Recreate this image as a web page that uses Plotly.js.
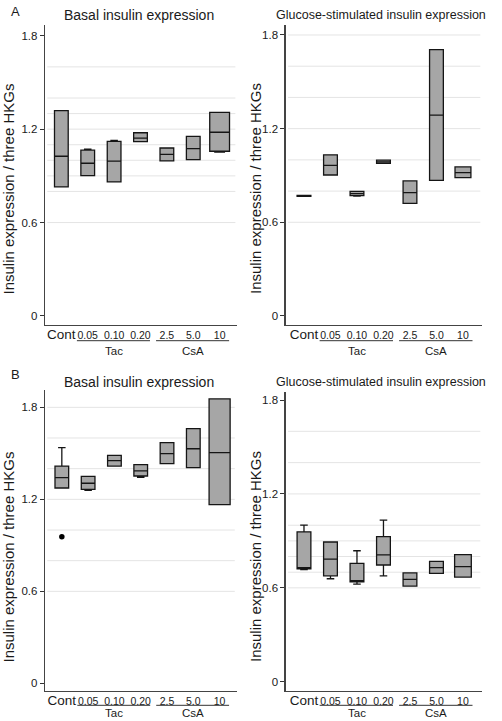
<!DOCTYPE html>
<html>
<head>
<meta charset="utf-8">
<script src="https://cdn.plot.ly/plotly-3.0.1.min.js"></script>
<style>html,body{margin:0;padding:0;background:#fff;}#chart{width:502px;height:721px;}</style>
</head>
<body>
<div id="chart"></div>
<script>
// ---------- data ----------
const categories = ['Cont', '0.05', '0.10', '0.20', '2.5', '5.0', '10'];
const groupNames = ['Tac', 'CsA'];
const groupFirst = [1, 4];
const groupLast = [3, 6];
const yTickVals = [0, 0.6, 1.2, 1.8];
const yTickText = ['0', '0.6', '1.2', '1.8'];
const panelLetters = ['A', 'B'];
const titleBasal = 'Basal insulin expression';
const titleGlucose = 'Glucose-stimulated insulin expression';
const yTitle = 'Insulin expression / three HKGs';

// Panel A, basal
const aBasalLow  = [0.829, 0.901, 0.861, 1.120, 0.996, 1.004, 1.052];
const aBasalQ1   = [0.829, 0.901, 0.861, 1.120, 0.996, 1.004, 1.058];
const aBasalMed  = [1.026, 0.981, 0.994, 1.143, 1.038, 1.075, 1.180];
const aBasalQ3   = [1.319, 1.065, 1.122, 1.177, 1.079, 1.154, 1.308];
const aBasalHigh = [1.319, 1.072, 1.128, 1.177, 1.079, 1.154, 1.308];
// Panel A, glucose-stimulated
const aGlucLow  = [0.766, 0.903, 0.768, 0.978, 0.721, 0.869, 0.886];
const aGlucQ1   = [0.766, 0.903, 0.771, 0.978, 0.721, 0.869, 0.886];
const aGlucMed  = [0.769, 0.965, 0.784, 0.987, 0.790, 1.287, 0.918];
const aGlucQ3   = [0.772, 1.032, 0.798, 0.998, 0.865, 1.706, 0.955];
const aGlucHigh = [0.772, 1.032, 0.798, 0.998, 0.865, 1.706, 0.955];
// Panel B, basal
const bBasalLow  = [1.274, 1.259, 1.417, 1.343, 1.433, 1.407, 1.165];
const bBasalQ1   = [1.274, 1.265, 1.417, 1.352, 1.433, 1.407, 1.165];
const bBasalMed  = [1.341, 1.305, 1.452, 1.385, 1.498, 1.530, 1.504];
const bBasalQ3   = [1.417, 1.350, 1.487, 1.426, 1.570, 1.661, 1.855];
const bBasalHigh = [1.537, 1.350, 1.487, 1.426, 1.570, 1.661, 1.855];
const bBasalOutlierX = ['Cont'];
const bBasalOutlierY = [0.956];
// Panel B, glucose-stimulated
const bGlucLow  = [0.716, 0.658, 0.624, 0.677, 0.611, 0.693, 0.669];
const bGlucQ1   = [0.722, 0.677, 0.639, 0.746, 0.611, 0.693, 0.669];
const bGlucMed  = [0.729, 0.784, 0.645, 0.810, 0.654, 0.729, 0.735];
const bGlucQ3   = [0.958, 0.893, 0.756, 0.927, 0.695, 0.769, 0.812];
const bGlucHigh = [1.001, 0.893, 0.837, 1.033, 0.695, 0.769, 0.812];

// light horizontal reference lines drawn in each panel
const gridABasal = [0.6, 0.8, 0.9, 1.0, 1.1, 1.2, 1.3, 1.4, 1.6];
const gridAGluc  = [0.6, 0.8, 1.0, 1.2, 1.4, 1.6, 1.8];
const gridBBasal = [0.6, 0.8, 1.0, 1.2, 1.4, 1.6, 1.8];
const gridBGluc  = [0.6, 0.7, 0.8, 0.9, 1.0, 1.2, 1.4, 1.6];

// ---------- styling / layout ----------
const FONT = 'Liberation Sans, Arial, Helvetica, sans-serif';
const TXT = '#1a1a1a';
const panels = [
  {ax: '', low: aBasalLow, q1: aBasalQ1, med: aBasalMed, q3: aBasalQ3, high: aBasalHigh, grid: gridABasal,
   xdom: [45/502, 237.3/502], ydom: [(721-325)/721, (721-25)/721], yr: [-0.058, 1.869], xr: [-0.62, 6.67],
   wideLast: 0.75, title: titleBasal, tsize: 14, tx: 139, ty: 15, grpShift: -26, lineShift: -15.7, ytx: 7.5, yty: 189},
  {ax: '2', low: aGlucLow, q1: aGlucQ1, med: aGlucMed, q3: aGlucQ3, high: aGlucHigh, grid: gridAGluc,
   xdom: [285.7/502, 482.3/502], ydom: [(721-325)/721, (721-25)/721], yr: [-0.058, 1.864], xr: [-0.69, 6.73],
   wideLast: 0.6, title: titleGlucose, tsize: 12.5, tx: 381, ty: 15, grpShift: -26, lineShift: -15.7, ytx: 255, yty: 189},
  {ax: '3', low: bBasalLow, q1: bBasalQ1, med: bBasalMed, q3: bBasalQ3, high: bBasalHigh, grid: gridBBasal,
   xdom: [45/502, 236.7/502], ydom: [(721-691)/721, (721-390)/721], yr: [-0.050, 1.913], xr: [-0.64, 6.65],
   wideLast: 0.8, title: titleBasal, tsize: 14, tx: 139, ty: 381.7, grpShift: -22, lineShift: -14.3, ytx: 7.5, yty: 557},
  {ax: '4', low: bGlucLow, q1: bGlucQ1, med: bGlucMed, q3: bGlucQ3, high: bGlucHigh, grid: gridBGluc,
   xdom: [285.7/502, 482.3/502], ydom: [(721-691)/721, (721-391.7)/721], yr: [-0.059, 1.853], xr: [-0.69, 6.73],
   wideLast: 0.63, title: titleGlucose, tsize: 12.5, tx: 381, ty: 381.7, grpShift: -22, lineShift: -14.3, ytx: 255, yty: 557}
];

const catIndex = {};
categories.forEach((c, i) => { catIndex[c] = i; });
const tickText = categories.map(c => c === 'Cont' ? '<span style="font-size:13.5px">' + c + '</span>' : c);

const traces = [];
const shapes = [];
const annotations = [];
const layout = {
  width: 502, height: 721,
  margin: {l: 0, r: 0, t: 0, b: 0},
  paper_bgcolor: '#ffffff', plot_bgcolor: '#ffffff',
  showlegend: false,
  font: {family: FONT, color: TXT, size: 11},
  boxmode: 'overlay'
};

panels.forEach((p, pi) => {
  const xa = 'x' + p.ax, ya = 'y' + p.ax;
  categories.forEach((c, i) => {
    traces.push({
      type: 'box', x: [i],
      q1: [p.q1[i]], median: [p.med[i]], q3: [p.q3[i]],
      lowerfence: [p.low[i]], upperfence: [p.high[i]],
      width: i === categories.length - 1 ? p.wideLast : 0.52,
      whiskerwidth: 0.55,
      fillcolor: '#a6a6a6',
      line: {color: '#151515', width: 1.3},
      boxpoints: false,
      hoverinfo: 'skip',
      xaxis: xa, yaxis: ya, showlegend: false
    });
  });
  p.grid.forEach(g => {
    shapes.push({type: 'line', layer: 'below', xref: xa + ' domain', yref: ya,
      x0: 0.012, x1: 0.99, y0: g, y1: g, line: {color: '#e4e4e4', width: 1}});
  });
  groupNames.forEach((gname, gi) => {
    shapes.push({type: 'line', xref: xa, yref: ya + ' domain', ysizemode: 'pixel', yanchor: 0,
      x0: groupFirst[gi] - 0.41, x1: groupLast[gi] + 0.36, y0: p.lineShift, y1: p.lineShift,
      line: {color: '#333333', width: 1}});
    annotations.push({text: gname, xref: xa, yref: ya + ' domain',
      x: (groupFirst[gi] + groupLast[gi]) / 2, y: 0, yshift: p.grpShift,
      xanchor: 'center', yanchor: 'middle', showarrow: false,
      font: {family: FONT, size: 11.5, color: TXT}});
  });
  annotations.push({text: p.title, xref: 'paper', yref: 'paper', x: p.tx / 502, y: (721 - p.ty) / 721,
    xanchor: 'center', yanchor: 'middle', showarrow: false,
    font: {family: FONT, size: p.tsize, color: TXT}});
  // y-axis title
  annotations.push({text: yTitle, xref: 'paper', yref: 'paper', x: p.ytx / 502, y: (721 - p.yty) / 721,
    xanchor: 'center', yanchor: 'middle', textangle: -90, showarrow: false,
    font: {family: FONT, size: 15, color: TXT}});

  layout['xaxis' + p.ax] = {
    domain: p.xdom, anchor: ya, range: p.xr, type: 'linear',
    showgrid: false, zeroline: false, showline: true, linecolor: '#444444', linewidth: 1.3,
    tickmode: 'array', tickvals: categories.map((c, i) => i), ticktext: tickText,
    ticks: '', ticklabelstandoff: 0, tickangle: 0,
    tickfont: {family: FONT, size: 10.5, color: TXT}, fixedrange: true
  };
  layout['yaxis' + p.ax] = {
    domain: p.ydom, anchor: xa, range: p.yr,
    showgrid: false, zeroline: false, showline: true, linecolor: '#444444', linewidth: 1.3,
    tickmode: 'array', tickvals: yTickVals, ticktext: yTickText,
    ticks: 'outside', ticklen: 4, tickwidth: 1, tickcolor: '#333333',
    tickfont: {family: FONT, size: 11.5, color: TXT},
    fixedrange: true
  };
});

// outlier point
traces.push({type: 'scatter', mode: 'markers', x: bBasalOutlierX.map(c => catIndex[c]), y: bBasalOutlierY,
  marker: {color: '#000000', size: 5.5}, xaxis: 'x3', yaxis: 'y3', hoverinfo: 'skip', showlegend: false});

panelLetters.forEach((L, i) => {
  annotations.push({text: L, xref: 'paper', yref: 'paper', x: 15 / 502, y: (721 - (i === 0 ? 11.5 : 374.7)) / 721,
    xanchor: 'center', yanchor: 'middle', showarrow: false, font: {family: FONT, size: 13, color: TXT}});
});

layout.shapes = shapes;
layout.annotations = annotations;

Plotly.newPlot('chart', traces, layout, {displayModeBar: false, staticPlot: true});
</script>
</body>
</html>
